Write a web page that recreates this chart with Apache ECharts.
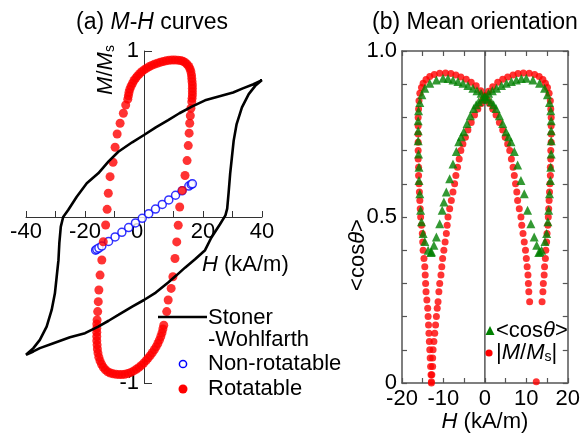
<!DOCTYPE html>
<html><head><meta charset="utf-8">
<script src="https://cdn.jsdelivr.net/npm/echarts@6/dist/echarts.min.js"></script>
<style>html,body{margin:0;padding:0;background:#fff}#c{width:583px;height:437px}</style>
</head><body><div id="c"></div>
<script>
// ---------- Panel (a): M-H curves ----------
const swUpper = [[40.0,0.825],[37.1,0.80],[33.5,0.775],[30.2,0.75],[25.0,0.725],[20.7,0.703],[16.2,0.665],[12.0,0.625],[8.2,0.584],[4.0,0.54],[0,0.494],[-4.0,0.45],[-8.7,0.393],[-12.0,0.335],[-15.5,0.263],[-19.4,0.203],[-22.8,0.122],[-25.7,0.042],[-27.4,0.0],[-28.2,-0.058],[-28.7,-0.158],[-29.0,-0.26],[-29.6,-0.36],[-30.2,-0.46],[-31.3,-0.56],[-33.0,-0.66],[-35.3,-0.74],[-37.5,-0.79],[-40.0,-0.83]];
const swLower = [[-40.0,-0.83],[-37.5,-0.81],[-35.3,-0.79],[-30.7,-0.76],[-25.1,-0.725],[-20.0,-0.70],[-15.5,-0.66],[-12.0,-0.625],[-8.7,-0.59],[-4.0,-0.54],[0,-0.50],[4.0,-0.455],[8.2,-0.395],[11.1,-0.35],[13.9,-0.305],[17.3,-0.255],[20.7,-0.20],[22.8,-0.125],[25.7,-0.045],[27.6,0.01],[28.2,0.05],[28.7,0.15],[29.2,0.26],[29.8,0.36],[30.4,0.46],[31.4,0.56],[33.2,0.66],[35.5,0.74],[37.7,0.79],[40.0,0.825]];
const nonRotatable = [[-16.4,-0.20],[-16.0,-0.195],[-15.3,-0.187],[-14.3,-0.175],[-12.0,-0.147],[-9.8,-0.12],[-7.5,-0.092],[-5.2,-0.064],[-2.9,-0.036],[-0.6,-0.008],[1.6,0.02],[3.9,0.048],[6.2,0.076],[8.4,0.103],[10.7,0.131],[12.9,0.158],[15.2,0.186],[16.0,0.196],[16.4,0.20]];
const rotatable = [
 [8.2,-0.50],[9.2,-0.43],[9.8,-0.36],[10.5,-0.25],[11.1,-0.15],[11.6,-0.05],[12.1,0.06],[13.0,0.16],[13.9,0.25],[14.6,0.34],[15.0,0.43],[15.3,0.505],[15.5,0.565],[15.7,0.61],[15.9,0.655],
 [16.2,0.695],[16.3,0.715],[16.4,0.735],[16.4,0.755],[16.4,0.775],[16.4,0.795],[16.3,0.815],[16.2,0.835],[16.1,0.855],[15.9,0.875],[15.6,0.892],[15.2,0.907],[14.6,0.92],[14.0,0.93],[13.2,0.938],[12.4,0.943],[11.5,0.945],[10.5,0.946],[9.5,0.946],[8.5,0.944],[7.5,0.941],[6.5,0.937],[5.5,0.932],[4.5,0.926],[3.5,0.92],[2.6,0.913],[1.7,0.905],[0.8,0.895],[0,0.886],[-0.8,0.875],[-1.5,0.863],[-2.2,0.85],[-2.8,0.837],[-3.4,0.822],[-3.9,0.805],[-4.4,0.788],[-4.8,0.77],[-5.1,0.75],[-5.3,0.73],[-5.5,0.71],
 [-6.2,0.675],[-7.0,0.625],[-8.1,0.565],[-9.1,0.50],[-9.8,0.42],[-10.5,0.33],[-11.5,0.243],[-12.1,0.143],[-12.5,0.046],[-13.0,-0.048],[-13.8,-0.149],[-14.3,-0.259],[-14.9,-0.35],[-15.3,-0.44],[-15.5,-0.51],[-15.7,-0.57],
 [-15.9,-0.62],[-16.0,-0.645],[-16.0,-0.67],[-16.0,-0.695],[-16.0,-0.72],[-16.0,-0.745],[-15.9,-0.77],[-15.8,-0.795],[-15.6,-0.82],[-15.3,-0.845],[-14.9,-0.867],[-14.4,-0.887],[-13.8,-0.905],[-13.1,-0.92],[-12.3,-0.932],[-11.4,-0.94],[-10.5,-0.945],[-9.5,-0.948],[-8.5,-0.949],[-7.5,-0.949],[-6.5,-0.947],[-5.5,-0.943],[-4.5,-0.936],[-3.5,-0.927],[-2.6,-0.917],[-1.7,-0.906],[-0.9,-0.894],[-0.1,-0.88],[0.7,-0.865],[1.4,-0.85],[2.1,-0.835],[2.8,-0.818],[3.5,-0.80],[4.1,-0.782],[4.7,-0.762],[5.2,-0.742],[5.7,-0.72],[6.1,-0.698],[6.4,-0.675],[6.7,-0.652],
 [7.7,-0.57]
];
const aXTicks = [-40,-20,0,20,40];

// ---------- Panel (b): Mean orientation ----------
const absM1 = [[-12.9,0.00],[-13.0,0.025],[-13.1,0.05],[-13.2,0.075],[-13.3,0.10],[-13.4,0.125],[-13.5,0.15],[-13.6,0.175],[-13.7,0.20],[-13.8,0.225],[-14.0,0.25],[-14.2,0.275],[-14.3,0.30],[-14.4,0.325],[-14.5,0.35],[-14.7,0.375],[-14.9,0.40],[-15.0,0.425],[-15.1,0.45],[-15.3,0.475],[-15.5,0.50],[-15.6,0.525],[-15.7,0.55],[-15.8,0.575],[-15.9,0.60],[-16.0,0.625],[-16.0,0.65],[-16.1,0.675],[-16.1,0.70],[-16.1,0.725],[-16.1,0.75],[-16.1,0.775],[-16.1,0.80],[-16.0,0.825],[-15.9,0.85],[-15.7,0.873],[-15.3,0.89],[-14.9,0.903],[-14.2,0.914],[-13.3,0.923],[-12.2,0.929],[-10.9,0.933],[-9.5,0.934],[-8.2,0.932],[-7.0,0.928],[-5.8,0.922],[-4.5,0.915],[-3.3,0.906],[-2.1,0.895],[-1.0,0.88],[0,0.865],[0.6,0.853],[1.1,0.842],[1.9,0.825],[2.7,0.807],[3.5,0.785],[4.3,0.762],[4.9,0.74],[5.5,0.72],[6.0,0.70],[6.4,0.675],[6.8,0.65],[7.1,0.625],[7.4,0.60],[7.7,0.575],[7.9,0.55],[8.3,0.525],[8.7,0.50],[8.9,0.475],[9.2,0.45],[9.5,0.425],[9.8,0.40],[10.0,0.375],[10.2,0.35],[10.4,0.325],[10.5,0.30],[10.6,0.275],[10.8,0.245]];
const absM2 = [[13.8,0.245],[14.0,0.275],[14.1,0.30],[14.3,0.325],[14.4,0.35],[14.6,0.375],[14.7,0.40],[14.9,0.425],[15.0,0.45],[15.2,0.475],[15.3,0.50],[15.4,0.525],[15.5,0.55],[15.6,0.575],[15.7,0.60],[15.8,0.625],[15.8,0.65],[15.9,0.675],[15.9,0.70],[16.0,0.725],[16.0,0.75],[16.0,0.775],[16.0,0.80],[15.9,0.825],[15.8,0.85],[15.5,0.873],[15.1,0.89],[14.6,0.903],[14.0,0.914],[13.1,0.923],[12.0,0.929],[10.7,0.933],[9.3,0.934],[8.0,0.932],[6.8,0.928],[5.5,0.922],[4.3,0.915],[3.1,0.906],[1.9,0.892],[0.9,0.879],[0,0.865],[-0.5,0.853],[-0.9,0.842],[-1.7,0.825],[-2.5,0.807],[-3.3,0.785],[-4.1,0.762],[-4.7,0.74],[-5.3,0.72],[-5.8,0.70],[-6.2,0.675],[-6.6,0.65],[-7.0,0.625],[-7.3,0.60],[-7.7,0.575],[-8.1,0.55],[-8.5,0.525],[-8.9,0.50],[-9.1,0.475],[-9.3,0.45],[-9.6,0.425],[-9.9,0.40],[-10.2,0.375],[-10.4,0.35],[-10.6,0.325],[-10.9,0.30],[-11.1,0.275],[-11.3,0.245],[-11.5,0.225],[-11.7,0.20],[-11.9,0.175],[-12.1,0.15],[-12.3,0.125],[-12.5,0.10],[-12.6,0.075],[-12.6,0.05],[-12.8,0.025],[-12.9,0.004]];
const absMLone = [[12.4,0.004]];
const cos1 = [[-13.0,0.393],[-13.7,0.40],[-14.5,0.426],[-14.9,0.45],[-15.3,0.486],[-15.5,0.52],[-15.7,0.57],[-15.9,0.61],[-15.9,0.65],[-16.0,0.69],[-16.1,0.73],[-16.1,0.76],[-16.1,0.79],[-16.0,0.82],[-15.7,0.845],[-15.2,0.868],[-14.5,0.888],[-13.3,0.903],[-11.7,0.913],[-10.1,0.918],[-8.9,0.917],[-7.7,0.913],[-6.5,0.908],[-5.3,0.903],[-4.1,0.896],[-2.9,0.888],[-1.9,0.88],[-0.9,0.873],[0,0.862],[0.7,0.855],[1.5,0.847],[2.1,0.838],[2.7,0.827],[3.5,0.805],[4.3,0.782],[5.1,0.757],[5.7,0.742],[6.3,0.727],[7.1,0.697],[7.9,0.657],[8.7,0.61],[9.5,0.57],[10.3,0.52],[11.1,0.48],[11.9,0.44],[12.5,0.415],[13.3,0.395]];
const cos2 = [[13.0,0.393],[13.7,0.40],[14.5,0.426],[14.9,0.45],[15.2,0.486],[15.4,0.52],[15.6,0.57],[15.8,0.61],[15.9,0.65],[16.0,0.69],[16.0,0.73],[16.0,0.76],[16.0,0.79],[15.9,0.82],[15.6,0.845],[15.1,0.868],[14.4,0.888],[13.2,0.903],[11.6,0.913],[10.0,0.918],[8.8,0.917],[7.6,0.913],[6.4,0.908],[5.2,0.903],[4.0,0.896],[2.8,0.888],[1.8,0.88],[0.9,0.873],[0,0.862],[-0.7,0.855],[-1.5,0.847],[-2.1,0.838],[-2.7,0.827],[-3.5,0.805],[-4.3,0.782],[-5.1,0.757],[-5.7,0.742],[-6.3,0.727],[-6.9,0.697],[-7.7,0.66],[-8.5,0.615],[-9.3,0.575],[-9.9,0.545],[-10.3,0.52],[-10.9,0.48],[-11.7,0.44],[-12.3,0.415],[-12.9,0.395]];
const zeroLine = [[0,0],[0,1]];
const bYLabels = {'0':'0','0.5':'0.5','1':'1.0'};

const FONT = '"Liberation Sans", Arial, sans-serif';
const FS = 22;
const chart = echarts.init(document.getElementById('c'), null, {renderer:'canvas'});

function rich(fs){
  return {
    n:{fontSize:fs,fontFamily:FONT,fill:'#000'},
    i:{fontSize:fs,fontFamily:FONT,fontStyle:'italic',fill:'#000'},
    s:{fontSize:14,fontFamily:FONT,fill:'#000',verticalAlign:'bottom'}
  };
}
function txt(x,y,text,o){
  o=o||{};
  const fs=o.fs||FS;
  return {type:'text', x:x, y:y, rotation:o.rot||0, z:100,
    style:{text:text, x:0, y:0, fontSize:fs, fontFamily:FONT, fill:'#000',
      align:o.align||'left', textAlign:o.align||'left', verticalAlign:'middle', textVerticalAlign:'middle',
      rich:rich(fs)}};
}

const axisCol = '#333';
const frameCol = '#555';
// grid (a): left 26, top 51, 236 x 332; zero lines at x=144, y=217
const option = {
  animation:false,
  grid:[
    {left:26, top:51, width:236, height:332},
    {left:402, top:51, width:167, height:332}
  ],
  xAxis:[
    {gridIndex:0, type:'value', min:-40, max:40, interval:10, position:'bottom', offset:-166,
     axisLine:{onZero:false, lineStyle:{color:axisCol,width:1}},
     axisTick:{inside:true, length:6, lineStyle:{color:axisCol,width:1}},
     splitLine:{show:false},
     axisLabel:{margin:4, color:'#000', fontSize:FS, fontFamily:FONT,
       formatter:v=> v===0 ? '{z|0}' : (aXTicks.indexOf(v)>=0 ? String(v) : ''),
       rich:{z:{fontSize:FS,fontFamily:FONT,color:'#000',padding:[0,14,0,0]}}}},
    {gridIndex:1, type:'value', min:-20, max:20, interval:5, position:'bottom',
     axisLine:{onZero:false, lineStyle:{color:frameCol,width:1.5}},
     axisTick:{inside:true, length:5, lineStyle:{color:frameCol,width:1.2}},
     splitLine:{show:false},
     axisLabel:{margin:5, color:'#000', fontSize:FS, fontFamily:FONT, formatter:v=> (v%10===0 ? String(v) : '')}},
    {gridIndex:1, type:'value', min:-20, max:20, interval:5, position:'top',
     axisLine:{onZero:false, lineStyle:{color:frameCol,width:1.5}},
     axisTick:{inside:true, length:5, lineStyle:{color:frameCol,width:1.2}},
     splitLine:{show:false}, axisLabel:{show:false}}
  ],
  yAxis:[
    {gridIndex:0, type:'value', min:-1, max:1, interval:1, position:'left', offset:-118,
     axisLine:{onZero:false, lineStyle:{color:axisCol,width:1}},
     axisTick:{inside:true, length:8, lineStyle:{color:axisCol,width:1}},
     splitLine:{show:false},
     axisLabel:{margin:5, color:'#000', fontSize:FS, fontFamily:FONT, formatter:v=> v===0 ? '' : String(v)}},
    {gridIndex:1, type:'value', min:0, max:1, interval:0.1, position:'left',
     axisLine:{onZero:false, lineStyle:{color:frameCol,width:1.5}},
     axisTick:{inside:true, length:5, lineStyle:{color:frameCol,width:1.2}},
     splitLine:{show:false},
     axisLabel:{margin:5, color:'#000', fontSize:FS, fontFamily:FONT,
       formatter:v=>{ const k = String(Math.round(v*10)/10); return bYLabels[k]||''; }}},
    {gridIndex:1, type:'value', min:0, max:1, interval:0.1, position:'right',
     axisLine:{onZero:false, lineStyle:{color:frameCol,width:1.5}},
     axisTick:{inside:true, length:5, lineStyle:{color:frameCol,width:1.2}},
     splitLine:{show:false}, axisLabel:{show:false}}
  ],
  series:[
    {type:'scatter', xAxisIndex:0, yAxisIndex:0, data:nonRotatable, symbol:'circle', symbolSize:8,
     itemStyle:{color:'#fff', borderColor:'#0000ff', borderWidth:1.5}, z:2},
    {type:'scatter', xAxisIndex:0, yAxisIndex:0, data:rotatable, symbol:'circle', symbolSize:9,
     itemStyle:{color:'#ff0000'}, z:3},
    {type:'line', xAxisIndex:0, yAxisIndex:0, data:swUpper.concat(swLower), showSymbol:false, symbol:'none',
     lineStyle:{color:'#000', width:2.6}, z:4},
    {type:'line', xAxisIndex:1, yAxisIndex:1, data:zeroLine, symbol:'none', lineStyle:{color:frameCol,width:1.5}, z:1},
    {type:'scatter', xAxisIndex:1, yAxisIndex:1, data:absM1, symbol:'circle', symbolSize:7, itemStyle:{color:'#ff0000'}, z:2},
    {type:'scatter', xAxisIndex:1, yAxisIndex:1, data:absM2, symbol:'circle', symbolSize:7, itemStyle:{color:'#ff0000'}, z:2},
    {type:'scatter', xAxisIndex:1, yAxisIndex:1, data:absMLone, symbol:'circle', symbolSize:7, itemStyle:{color:'#ff0000'}, z:2},
    {type:'scatter', xAxisIndex:1, yAxisIndex:1, data:cos1, symbol:'triangle', symbolSize:9, itemStyle:{color:'#008000'}, z:3},
    {type:'scatter', xAxisIndex:1, yAxisIndex:1, data:cos2, symbol:'triangle', symbolSize:9, itemStyle:{color:'#008000'}, z:3}
  ],
  graphic:[
    txt(152,23,'(a) {i|M}-{i|H} curves',{align:'center',fs:23}),
    txt(372,23,'(b) Mean orientation',{fs:23}),
    txt(106,70,'{i|M}/{i|M}{s|s}',{align:'center',rot:Math.PI/2}),
    txt(202,265,'{i|H} (kA/m)'),
    txt(485,422,'{i|H} (kA/m)',{align:'center'}),
    txt(358,255,'<cos{i|θ}>',{align:'center',rot:Math.PI/2}),
    {type:'line', z:100, shape:{x1:158,y1:317,x2:207,y2:317}, style:{stroke:'#000',lineWidth:2.6}},
    txt(208,318,'Stoner'),
    txt(208,340,'-Wohlfarth'),
    {type:'circle', z:100, shape:{cx:183,cy:364,r:3.6}, style:{fill:'#fff',stroke:'#0000ff',lineWidth:1.5}},
    txt(208,364,'Non-rotatable'),
    {type:'circle', z:100, shape:{cx:183,cy:389,r:4.5}, style:{fill:'#ff0000'}},
    txt(208,389,'Rotatable'),
    {type:'polygon', z:100, shape:{points:[[490,326],[494.5,335],[485.5,335]]}, style:{fill:'#008000'}},
    txt(496,331,'<cos{i|θ}>'),
    {type:'circle', z:100, shape:{cx:489,cy:353,r:3.6}, style:{fill:'#ff0000'}},
    txt(496,353,'|{i|M}/{i|M}{s|s}|')
  ]
};
chart.setOption(option);
</script></body></html>
